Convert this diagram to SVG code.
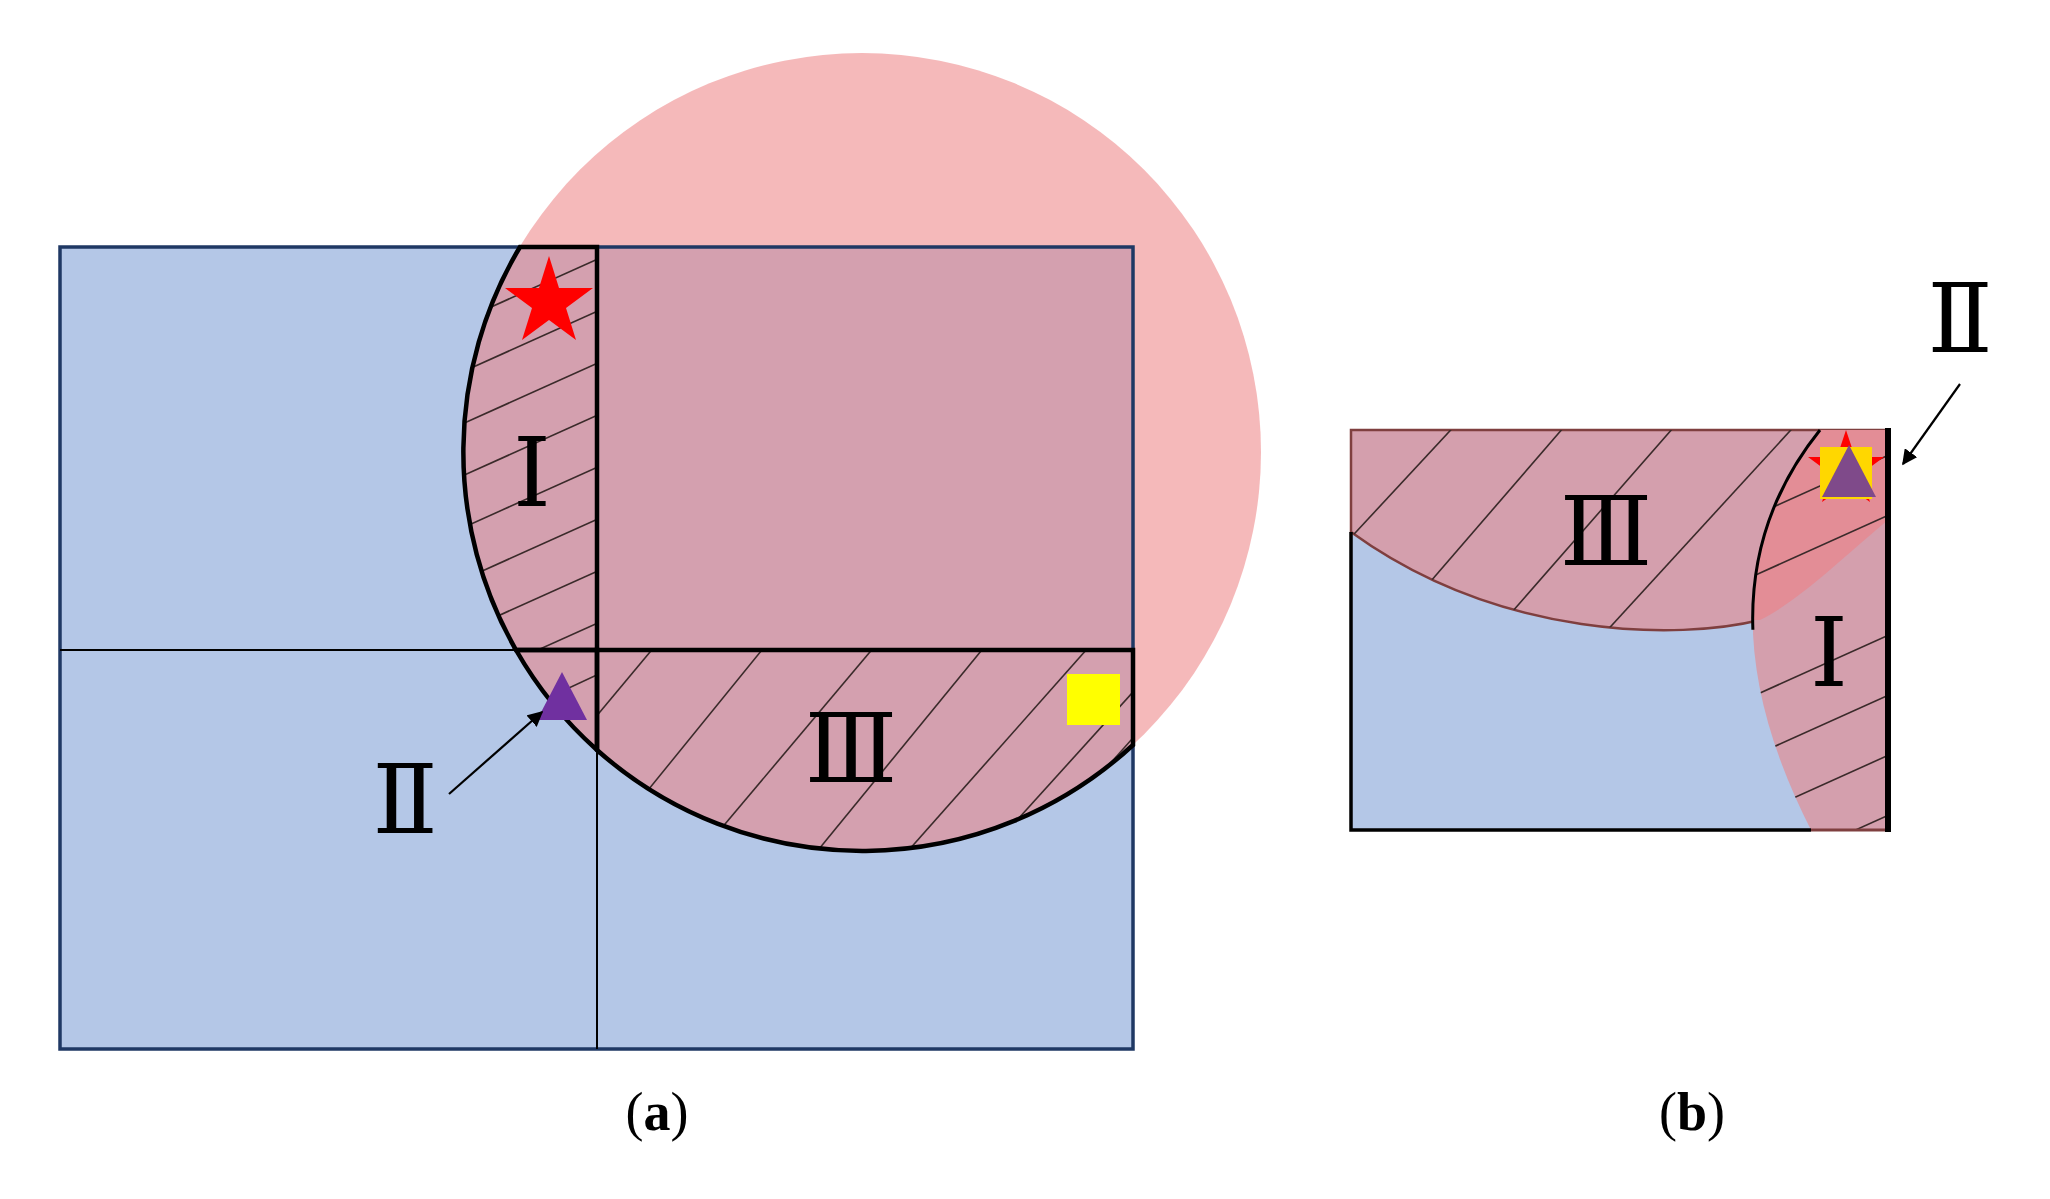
<svg xmlns="http://www.w3.org/2000/svg" width="2050" height="1199" viewBox="0 0 2050 1199">
<style>
.num{font-family:"DejaVu Serif","Liberation Serif",serif;font-size:96px;fill:#000;text-anchor:middle}
.cap{font-family:"Liberation Serif",serif;font-size:54px;fill:#000;text-anchor:middle}
.h{stroke:#3a2a2a;stroke-width:1.6;fill:none}
.reg{fill:none;stroke:#000;stroke-width:4.5}
</style>
<defs>
<marker id="ah" viewBox="0 0 10 10" refX="9" refY="5" markerWidth="7" markerHeight="7" orient="auto"><path d="M0,0 L10,5 L0,10 z" fill="#000"/></marker>
<clipPath id="cI"><path d="M520,247 L597,247 L597,650 L516,650 A399 399 0 0 1 520,247 Z"/></clipPath>
<clipPath id="cII"><path d="M516,650 L597,650 L597,750 A399 399 0 0 1 516,650 Z"/></clipPath>
<clipPath id="cIII"><path d="M597,650 L1133,650 L1133,745 A399 399 0 0 1 597,750 Z"/></clipPath>
<clipPath id="bIII"><path d="M1351,430 L1888,430 L1888,520 C1840,560 1800,600 1760,620 C1680,640 1500,640 1351,532 Z"/></clipPath>
<clipPath id="bI"><path d="M1820,430 L1888,430 L1888,830 L1811,830 Q1690,592 1820,430 Z"/></clipPath>
</defs>
<g id="panel-a">
<rect x="60" y="247" width="1073" height="802" fill="#B4C7E7"/>
<circle cx="862" cy="452" r="399" fill="rgb(237,130,132)" fill-opacity="0.56"/>
<rect x="60" y="247" width="1073" height="802" fill="none" stroke="#1F3864" stroke-width="3.5"/>
<line x1="597" y1="247" x2="597" y2="1049" stroke="#000" stroke-width="2"/>
<line x1="60" y1="650" x2="1133" y2="650" stroke="#000" stroke-width="2"/>
<g clip-path="url(#cI)">
<line class="h" x1="440" y1="330" x2="640" y2="240"/><line class="h" x1="440" y1="382" x2="640" y2="292"/>
<line class="h" x1="440" y1="434" x2="640" y2="344"/><line class="h" x1="440" y1="486" x2="640" y2="396"/>
<line class="h" x1="440" y1="538" x2="640" y2="448"/><line class="h" x1="440" y1="590" x2="640" y2="500"/>
<line class="h" x1="440" y1="642" x2="640" y2="552"/><line class="h" x1="440" y1="694" x2="640" y2="604"/>
</g>
<g clip-path="url(#cII)"><line class="h" x1="500" y1="720" x2="640" y2="655"/></g>
<g clip-path="url(#cIII)">
<line class="h" x1="560" y1="760" x2="660" y2="640"/><line class="h" x1="640" y1="800" x2="770" y2="640"/>
<line class="h" x1="720" y1="830" x2="880" y2="640"/><line class="h" x1="810" y1="860" x2="990" y2="640"/>
<line class="h" x1="900" y1="860" x2="1095" y2="640"/><line class="h" x1="990" y1="850" x2="1180" y2="640"/>
<line class="h" x1="1060" y1="820" x2="1220" y2="640"/>
</g>
<path class="reg" d="M520,247 L597,247 L597,650 L516,650 A399 399 0 0 1 520,247 Z"/>
<path class="reg" d="M516,650 L597,650 L597,750 A399 399 0 0 1 516,650 Z"/>
<path class="reg" d="M597,650 L1133,650 L1133,745 A399 399 0 0 1 597,750 Z"/>
<polygon fill="#FF0000" points="549,256 559,288 593,288 566,308 576,340 549,320 522,340 532,308 505,288 539,288"/>
<rect x="1067" y="674" width="53" height="51" fill="#FFFF00"/>
<polygon fill="#7030A0" points="562,672 587,720 537,720"/>
<text class="num" x="532" y="506">Ⅰ</text>
<text class="num" x="851" y="782">Ⅲ</text>
<text class="num" x="405" y="833">Ⅱ</text>
<text class="cap" x="657" y="1130">(<tspan font-weight="bold">a</tspan>)</text>
</g>
<g id="panel-b">
<rect x="1351" y="430" width="537" height="400" fill="#B4C7E7"/>
<path d="M1351,430 L1888,430 L1888,520 C1840,560 1800,600 1760,620 C1680,640 1500,640 1351,532 Z" fill="#D49FAD" stroke="#7F3F3F" stroke-width="2.5"/>
<path d="M1820,430 L1888,430 L1888,830 L1811,830 Q1690,592 1820,430 Z" fill="#D49FAD"/>
<g clip-path="url(#bI)"><path d="M1351,430 L1888,430 L1888,520 C1840,560 1800,600 1760,620 L1700,620 L1700,430 Z" fill="#E68890" fill-opacity="0.8"/></g>
<g clip-path="url(#bIII)">
<line class="h" x1="1330" y1="560" x2="1460" y2="420"/><line class="h" x1="1380" y1="640" x2="1570" y2="420"/>
<line class="h" x1="1470" y1="660" x2="1680" y2="420"/><line class="h" x1="1580" y1="660" x2="1800" y2="420"/>
</g>
<g clip-path="url(#bI)">
<line class="h" x1="1700" y1="540" x2="1900" y2="450"/><line class="h" x1="1700" y1="600" x2="1900" y2="510"/>
<line class="h" x1="1700" y1="720" x2="1900" y2="630"/><line class="h" x1="1700" y1="780" x2="1900" y2="690"/>
<line class="h" x1="1700" y1="840" x2="1900" y2="750"/><line class="h" x1="1700" y1="900" x2="1900" y2="810"/>
</g>
<path d="M1811,830 Q1690,592 1820,430" fill="none" stroke="#000" stroke-width="3" stroke-dasharray="0 210 400"/>
<path d="M1351,532 L1351,830 L1811,830" fill="none" stroke="#000" stroke-width="3.5"/>
<line x1="1811" y1="830" x2="1888" y2="830" stroke="#7F3F3F" stroke-width="3"/>
<line x1="1888" y1="428" x2="1888" y2="832" stroke="#000" stroke-width="6"/>
<polygon fill="#FF0000" points="1846,430 1855,457 1884,457 1861,474 1870,502 1846,485 1822,502 1831,474 1808,457 1837,457"/>
<rect x="1820" y="447" width="52" height="52" fill="#FFD700"/>
<polygon fill="#7F4A8A" points="1849,445 1876,497 1822,497"/>
<text class="num" x="1606" y="565">Ⅲ</text>
<text class="num" x="1829" y="686">Ⅰ</text>
<text class="num" x="1960" y="352">Ⅱ</text>
<text class="cap" x="1692" y="1130">(<tspan font-weight="bold">b</tspan>)</text>
</g>
<g id="connectors">
<line x1="449" y1="794" x2="542" y2="712" stroke="#000" stroke-width="2.2" marker-end="url(#ah)"/>
<line x1="1960" y1="384" x2="1903" y2="464" stroke="#000" stroke-width="2.2" marker-end="url(#ah)"/>
</g>
</svg>
